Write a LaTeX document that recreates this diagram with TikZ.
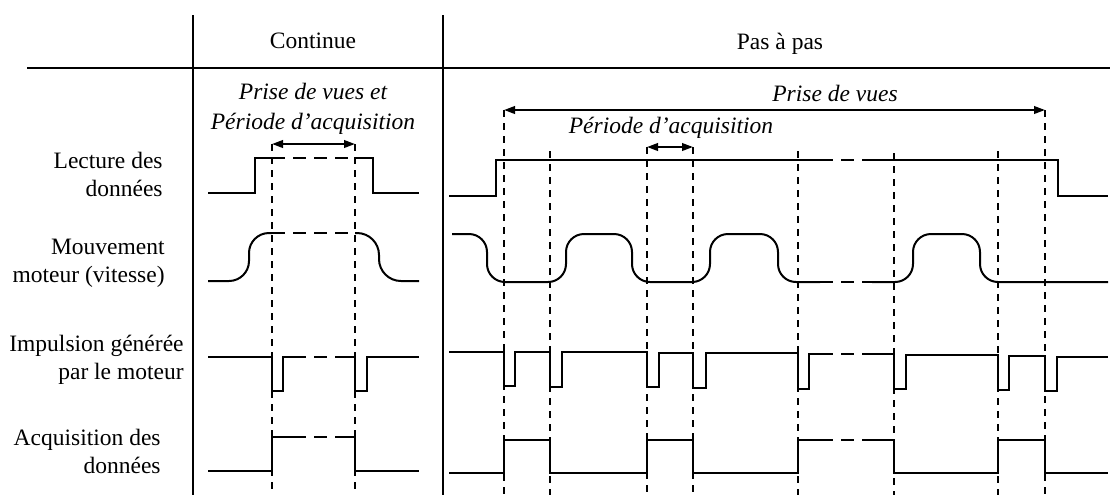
\documentclass[tikz,border=0pt]{standalone}
\usepackage{fontspec}
\setmainfont{Liberation Serif}
\usetikzlibrary{arrows.meta}
\begin{document}
\begin{tikzpicture}[x=0.5pt,y=-0.5pt,
  sig/.style={line width=1pt,line join=miter},
  dsh/.style={line width=1pt,dash pattern=on 6.5pt off 4pt},
  vdash/.style={line width=0.9pt,dash pattern=on 3.5pt off 3pt},
  frame/.style={line width=1pt},
  lab/.style={inner sep=0pt,align=right,anchor=east,font=\fontsize{11.75pt}{14pt}\selectfont},
  ttl/.style={inner sep=0pt,font=\fontsize{11.75pt}{14pt}\selectfont},
  itl/.style={inner sep=0pt,align=center,font=\fontsize{11.75pt}{15pt}\selectfont\itshape},
  dim/.style={line width=1pt,{Triangle[length=5.5pt,width=3.8pt]}-{Triangle[length=5.5pt,width=3.8pt]}}
]
\useasboundingbox (0,0) rectangle (1110,495);

% frame
\draw[frame] (193,15) -- (193,495);
\draw[frame] (443,15) -- (443,495);
\draw[frame] (27,68) -- (1110,68);

% titles
\node[ttl] (tcont) at (313,41) {Continue};
\node[ttl] (tpas) at (780,44) {Pas à pas};

% row labels
\node[lab] (l1) at (163,174) {Lecture des\\données};
\node[lab] (l2) at (165,263) {Mouvement\\moteur (vitesse)};
\node[lab] (l3) at (184,360) {Impulsion générée\\par le moteur};
\node[lab] (l4) at (161,451) {Acquisition des\\données};

% ---------- Continue ----------
\node[itl] (c-txt) at (313,109) {Prise de vues et\\Période d’acquisition};
\coordinate (ca) at (272,144);
\coordinate (cb) at (355,144);
\draw[dim] (ca) -- (cb);
\draw[vdash] (ca) -- (272,495);
\draw[vdash] (cb) -- (355,495);

% lecture
\draw[sig] (208,193) -- (255,193) -- (255,158) -- (272,158);
\draw[dsh] (272,158) -- (355,158);
\draw[sig] (355,158) -- (373,158) -- (373,193) -- (419,193);
% mouvement
\draw[sig,rounded corners=10pt] (208,281) -- (249,281) -- (249,233) -- (272,233);
\draw[dsh] (272,233) -- (355,233);
\draw[sig,rounded corners=11pt] (355,233) -- (379,233) -- (379,281) -- (419,281);
% impulsion
\draw[sig] (208,357) -- (272,357) -- (272,391) -- (283,391) -- (283,357) -- (293,357);
\draw[dsh] (293,357) -- (343,357);
\draw[sig] (343,357) -- (355,357) -- (355,391) -- (367,391) -- (367,357) -- (419,357);
% acquisition
\draw[sig] (208,471) -- (272,471) -- (272,437) -- (293,437);
\draw[dsh] (293,437) -- (343,437);
\draw[sig] (343,437) -- (355,437) -- (355,471) -- (419,471);

% ---------- Pas a pas ----------
\node[itl] (p-txt1) at (835,93) {Prise de vues};
\node[itl] (p-txt2) at (671,128) {Période d’acquisition};
\coordinate (pa) at (504,110);
\coordinate (pb) at (1045,110);
\draw[dim] (pa) -- (pb);
\coordinate (qa) at (647,147);
\coordinate (qb) at (693,147);
\draw[dim] (qa) -- (qb);

\draw[vdash] (pa) -- (504,495);
\draw[vdash] (pb) -- (1045,495);
\draw[vdash] (qa) -- (647,495);
\draw[vdash] (qb) -- (693,495);
\draw[vdash] (550,151) -- (550,495);
\draw[vdash] (798,151) -- (798,495);
\draw[vdash] (894,153) -- (894,495);
\draw[vdash] (998,151) -- (998,495);

% lecture
\draw[sig] (449,196) -- (496,196) -- (496,160) -- (820,160);
\draw[dsh] (820,160) -- (872,160);
\draw[sig] (872,160) -- (1058,160) -- (1058,196) -- (1108,196);
% mouvement
\draw[sig,rounded corners=9pt] (452,234) -- (487,234) -- (487,282) -- (566,282) -- (566,234) -- (632,234) -- (632,282) -- (710,282) -- (710,234) -- (778,234) -- (778,282) -- (820,282);
\draw[dsh] (820,282) -- (872,282);
\draw[sig,rounded corners=9pt] (872,282) -- (913,282) -- (913,234) -- (980,234) -- (980,282) -- (1108,282);
% impulsion
\draw[sig] (449,352) -- (504,352) -- (504,386) -- (515,386) -- (515,352) -- (550,352) -- (550,387) -- (562,387) -- (562,352) -- (647,352) -- (647,387) -- (659,387) -- (659,353) -- (693,353) -- (693,388) -- (706,388) -- (706,353) -- (798,353) -- (798,389) -- (809,389) -- (809,354) -- (820,354);
\draw[dsh] (820,354) -- (872,354);
\draw[sig] (872,354) -- (894,354) -- (894,389) -- (906,389) -- (906,355) -- (998,355) -- (998,390) -- (1009,390) -- (1009,356) -- (1045,356) -- (1045,391) -- (1057,391) -- (1057,357) -- (1108,357);
% acquisition
\draw[sig] (449,473) -- (504,473) -- (504,440) -- (550,440) -- (550,473) -- (647,473) -- (647,440) -- (693,440) -- (693,473) -- (798,473) -- (798,440) -- (820,440);
\draw[dsh] (820,440) -- (872,440);
\draw[sig] (872,440) -- (894,440) -- (894,473) -- (998,473) -- (998,440) -- (1045,440) -- (1045,473) -- (1108,473);
\end{tikzpicture}
\end{document}
